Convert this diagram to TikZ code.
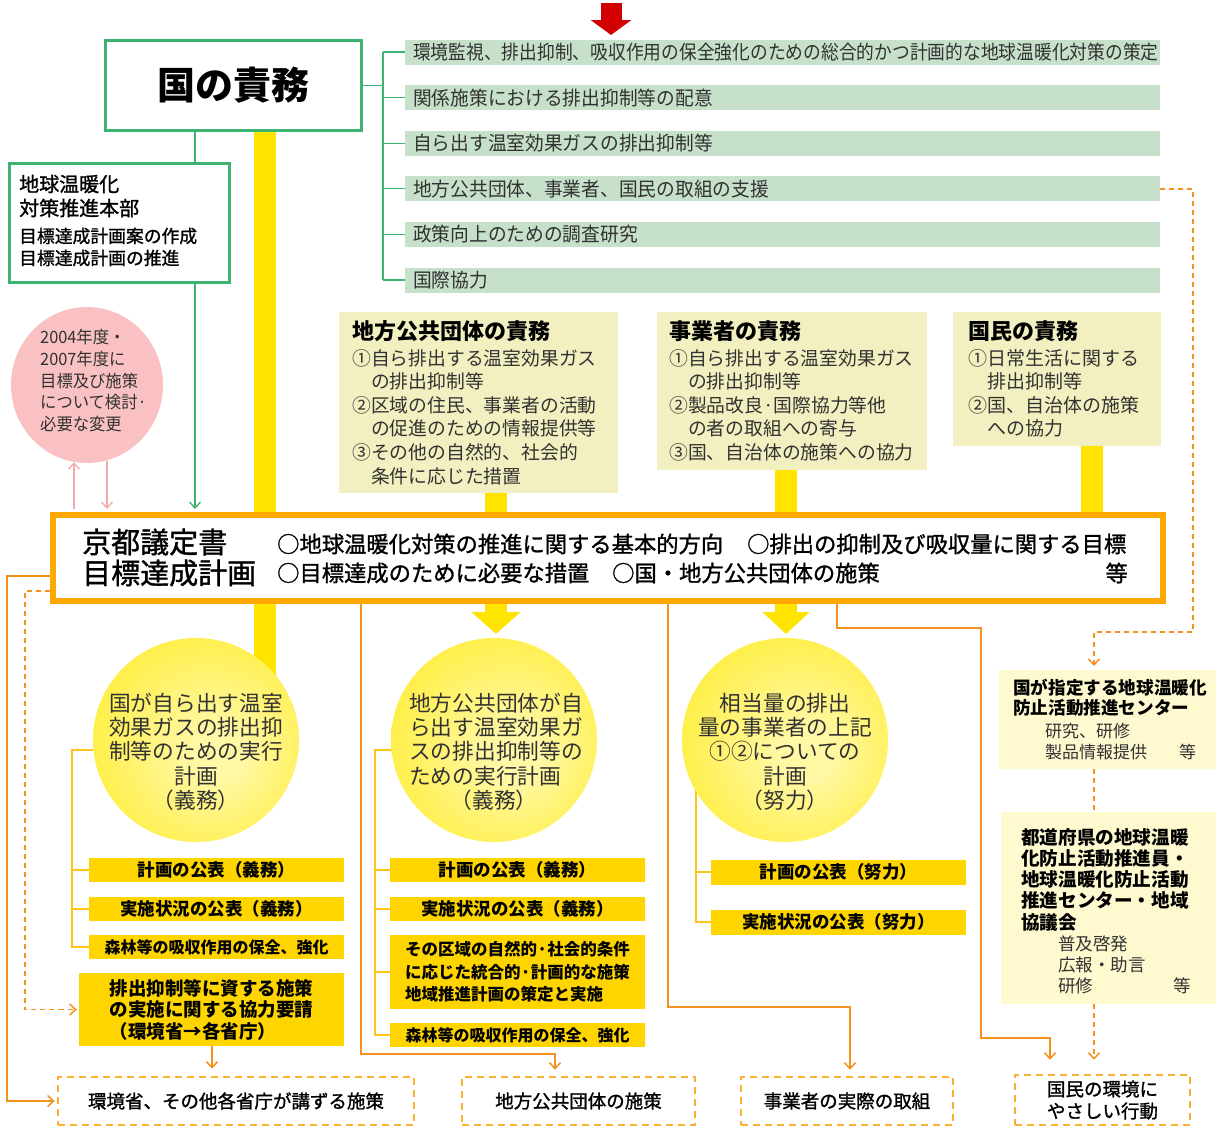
\documentclass[tikz,border=0pt]{standalone}
\usepackage{fontspec}
\setmainfont{Noto Sans CJK JP}
\newfontfamily\jpn[FakeStretch=0.96]{Noto Sans CJK JP}
\newfontfamily\jpnc[FakeStretch=0.91]{Noto Sans CJK JP}
\newfontfamily\jpm[FakeBold=1.2]{Noto Sans CJK JP}
\usetikzlibrary{arrows.meta,shapes.geometric}
\definecolor{gborder}{RGB}{60,179,113}
\definecolor{gfill}{RGB}{198,224,202}
\definecolor{khaki}{RGB}{242,240,192}
\definecolor{ybar}{RGB}{255,228,0}
\definecolor{gold}{RGB}{255,213,0}
\definecolor{kyoor}{RGB}{255,168,0}
\definecolor{olc}{RGB}{245,145,30}
\definecolor{odash}{RGB}{250,175,50}
\definecolor{pinkc}{RGB}{249,193,193}
\definecolor{pinkl}{RGB}{243,170,170}
\definecolor{rbox}{RGB}{255,249,208}
\definecolor{treec}{RGB}{255,196,20}
\definecolor{redarr}{RGB}{210,0,0}
\definecolor{tgray}{RGB}{50,50,50}
\definecolor{ylight}{RGB}{255,248,165}
\definecolor{ydeep}{RGB}{255,232,0}
\pgfdeclareradialshading{yglow}{\pgfpoint{6bp}{-4bp}}{color(0bp)=(ylight); color(6bp)=(ylight); color(46bp)=(ydeep); color(50bp)=(ydeep)}
\pgfdeclarelayer{bg}
\pgfsetlayers{bg,main}
\newcommand\Fz[1]{\fontsize{#1}{#1}\selectfont}
\begin{document}
\begin{tikzpicture}[x=1pt,y=-1pt,
  lt/.style={inner sep=0pt, anchor=west, text=black},
  ltg/.style={inner sep=0pt, anchor=west, text=tgray},
  gb/.style={draw=gborder, line width=2.5pt, fill=white, inner sep=0pt},
  gl/.style={draw=gborder, line width=1.3pt},
  gitem/.style={fill=gfill, anchor=west, minimum height=25pt, text width=739pt, inner xsep=8pt, inner ysep=0pt, align=left, font=\jpn\Fz{19.5}, text=tgray},
  kb/.style={fill=khaki, inner sep=0pt, anchor=north west},
  circ/.style={ellipse, minimum width=206pt, minimum height=204pt, inner sep=0pt, shade, shading=yglow},
  gbar/.style={fill=gold, inner sep=0pt, minimum width=255pt, minimum height=24pt, font=\bfseries\Fz{17.5}},
  rb/.style={fill=rbox, inner sep=0pt, anchor=north west},
  bbx/.style={draw=odash, line width=2.5pt, dash pattern=on 7pt off 5pt, fill=white, inner sep=0pt, font=\jpm\Fz{18.5}, minimum height=48pt},
  ybarst/.style={draw=ybar, line width=22pt},
  treel/.style={draw=treec, line width=1.3pt},
  arr/.style={-{Straight Barb[length=6pt,width=11pt]}},
  ol/.style={draw=olc, line width=1.5pt},
  odl/.style={draw=olc, line width=1.5pt, dash pattern=on 5pt off 4pt},
  pa/.style={draw=pinkl, line width=1.3pt, arr}
]
\useasboundingbox (0,0) rectangle (1224,1133);

% helper coordinates
\coordinate (gt) at (383,0);
\coordinate (hx) at (195,0);
\coordinate (xbar) at (265,0);
\coordinate (xk1) at (496,0);
\coordinate (xk2) at (786,0);
\coordinate (xk3) at (1092,0);
\coordinate (ytip) at (0,634);
\coordinate (xa) at (361,0);
\coordinate (xb) at (668,0);
\coordinate (xc) at (837,0);
\coordinate (xd) at (981,0);
\coordinate (xe) at (1050,0);
\coordinate (xf) at (555,0);
\coordinate (xg) at (850,0);
\coordinate (xh) at (1193,0);
\coordinate (xi) at (1094,0);
\coordinate (xj) at (7,0);
\coordinate (xk) at (25,0);
\coordinate (xl) at (212,0);
\coordinate (ya) at (0,1054);
\coordinate (yb) at (0,1007);
\coordinate (yc) at (0,628);
\coordinate (yd) at (0,1038);
\coordinate (ye) at (0,632);
\coordinate (xp1) at (74,0);
\coordinate (xp2) at (107,0);
\coordinate (xt1) at (72,0);
\coordinate (xt2) at (375,0);
\coordinate (xt3) at (696,0);
\coordinate (ra1) at (611,3);
\coordinate (ra2) at (611,35);

% red arrow
\draw[draw=redarr, line width=21pt, -{Triangle[length=15pt,width=40pt]}] (ra1) -- (ra2);

% 国の責務
\node[gb, minimum width=256pt, minimum height=90pt, anchor=north west, font=\bfseries\Fz{38}] (kuni) at (104,39) {国の責務};

% green list
\foreach \t [count=\i] in {{\jpnc 環境監視、排出抑制、吸収作用の保全強化のための総合的かつ計画的な地球温暖化対策の策定},関係施策における排出抑制等の配意,自ら出す温室効果ガスの排出抑制等,地方公共団体、事業者、国民の取組の支援,政策向上のための調査研究,国際協力}
  \node[gitem] (g\i) at (405,{52+45.6*(\i-1)}) {\t};

% 本部
\node[gb, minimum width=220pt, minimum height=119pt, anchor=north west] (honbu) at (8,162) {};
\node[lt, font=\jpm\Fz{20}] (h1) at (19,184) {地球温暖化};
\node[lt, font=\jpm\Fz{20}] (h2) at (19,208) {対策推進本部};
\node[lt, font=\jpm\Fz{17.8}] (h3) at (19,236) {目標達成計画案の作成};
\node[lt, font=\jpm\Fz{17.8}] (h4) at (19,258) {目標達成計画の推進};

% pink circle
\node[ellipse, fill=pinkc, minimum width=152pt, minimum height=156pt, inner sep=0pt] (pc) at (87,385) {};
\foreach \t [count=\i] in {2004年度・,2007年度に,目標及び施策,について検討·,必要な変更}
  \node[ltg, font=\jpn\Fz{17}] (p\i) at (40,{337+21.8*(\i-1)}) {\t};

% khaki boxes
\node[kb, minimum width=279pt, minimum height=181pt] (k1) at (339,312) {};
\node[lt, font=\bfseries\Fz{22}] (k1t) at (352,331) {地方公共団体の責務};
\foreach \t [count=\i] in {①自ら排出する温室効果ガス,　の排出抑制等,②区域の住民、事業者の活動,　の促進のための情報提供等,③その他の自然的、社会的,　条件に応じた措置}
  \node[ltg, font=\Fz{18.8}] (k1l\i) at (352,{358+23.6*(\i-1)}) {\t};

\node[kb, minimum width=270pt, minimum height=158pt] (k2) at (657,312) {};
\node[lt, font=\bfseries\Fz{22}] (k2t) at (669,331) {事業者の責務};
\foreach \t [count=\i] in {①自ら排出する温室効果ガス,　の排出抑制等,②製品改良·国際協力等他,　の者の取組への寄与,③国、自治体の施策への協力}
  \node[ltg, font=\Fz{18.8}] (k2l\i) at (669,{358+23.6*(\i-1)}) {\t};

\node[kb, minimum width=208pt, minimum height=134pt] (k3) at (953,312) {};
\node[lt, font=\bfseries\Fz{22}] (k3t) at (968,331) {国民の責務};
\foreach \t [count=\i] in {①日常生活に関する,　排出抑制等,②国、自治体の施策,　への協力}
  \node[ltg, font=\Fz{19}] (k3l\i) at (968,{358+23.6*(\i-1)}) {\t};

% 京都議定書 box
\node[draw=kyoor, line width=6pt, fill=white, minimum width=1110pt, minimum height=86pt, anchor=north west, inner sep=0pt] (kyoto) at (50,512) {};
\node[lt, font=\jpm\Fz{29}] (ky1) at (82,542) {京都議定書};
\node[lt, font=\jpm\Fz{29}] (ky2) at (82,573) {目標達成計画};
\node[lt, font=\jpm\Fz{22.3}] (ky3) at (277,544) {○地球温暖化対策の推進に関する基本的方向};
\node[lt, font=\jpm\Fz{22.3}] (ky4) at (747,544) {○排出の抑制及び吸収量に関する目標};
\node[lt, font=\jpm\Fz{22.3}] (ky5) at (277,573) {○目標達成のために必要な措置};
\node[lt, font=\jpm\Fz{22.3}] (ky6) at (612,573) {○国・地方公共団体の施策};
\node[lt, anchor=east, font=\jpm\Fz{22.3}] (ky7) at (1128,573) {等};

% circles
\node[circ] (c1) at (196,740) {};
\node[circ] (c2) at (494,740) {};
\node[circ] (c3) at (785,740) {};
\foreach \t [count=\i] in {国が自ら出す温室,効果ガスの排出抑,制等のための実行,計画,（義務）}
  \node[inner sep=0pt, text=tgray, font=\Fz{21.7}] (c1l\i) at (196,{703+24.3*(\i-1)}) {\t};
\foreach \t [count=\i] in {地方公共団体が自,ら出す温室効果ガ,スの排出抑制等の,ための実行計画}
  \node[ltg, font=\Fz{21.7}] (c2l\i) at (409,{703+24.3*(\i-1)}) {\t};
\node[inner sep=0pt, text=tgray, font=\Fz{21.7}] (c2l5) at (494,800) {（義務）};
\foreach \t [count=\i] in {相当量の排出,量の事業者の上記,①②についての,計画,（努力）}
  \node[inner sep=0pt, text=tgray, font=\Fz{21.7}] (c3l\i) at (785,{703+24.3*(\i-1)}) {\t};

% gold bars
\node[gbar] (b11) at (216.5,870) {計画の公表（義務）};
\node[gbar] (b12) at (216.5,909) {実施状況の公表（義務）};
\node[gbar, font=\bfseries\Fz{16}] (b13) at (216.5,947) {森林等の吸収作用の保全、強化};
\node[gbar, minimum width=265pt, minimum height=73pt, align=left, font=\bfseries\fontsize{18.5}{21.5}\selectfont] (b14) at (211.5,1009.5) {排出抑制等に資する施策\\の実施に関する協力要請\\（環境省→各省庁）};
\node[gbar] (b21) at (517.5,870) {計画の公表（義務）};
\node[gbar] (b22) at (517.5,909) {実施状況の公表（義務）};
\node[gbar, minimum height=74pt, align=left, font=\bfseries\fontsize{16.5}{22.5}\selectfont] (b23) at (517.5,972) {その区域の自然的·社会的条件\\に応じた統合的·計画的な施策\\地域推進計画の策定と実施};
\node[gbar, font=\bfseries\Fz{16}] (b24) at (517.5,1035) {森林等の吸収作用の保全、強化};
\node[gbar, minimum height=25pt] (b31) at (838.5,872) {計画の公表（努力）};
\node[gbar, minimum height=25pt] (b32) at (838.5,922) {実施状況の公表（努力）};

% right boxes
\node[rb, minimum width=217pt, minimum height=99pt] (r1) at (999,670) {};
\node[lt, font=\bfseries\Fz{17.6}] (r1a) at (1013,688) {国が指定する地球温暖化};
\node[lt, font=\bfseries\Fz{17.6}] (r1b) at (1013,708) {防止活動推進センター};
\node[ltg, font=\Fz{17}] (r1c) at (1045,731) {研究、研修};
\node[ltg, font=\Fz{17}] (r1d) at (1045,752) {製品情報提供\hspace{32pt}等};

\node[rb, minimum width=215pt, minimum height=192pt] (r2) at (1001,812) {};
\foreach \t [count=\i] in {都道府県の地球温暖,化防止活動推進員・,地球温暖化防止活動,推進センター・地域,協議会}
  \node[lt, font=\bfseries\Fz{18.6}] (r2l\i) at (1021,{837+21.3*(\i-1)}) {\t};
\node[ltg, font=\Fz{17.5}] (r2l6) at (1058,944) {普及啓発};
\node[ltg, font=\Fz{17.5}] (r2l7) at (1058,965) {広報・助言};
\node[ltg, font=\Fz{17.5}] (r2l8) at (1058,986) {研修\hspace{80pt}等};

% bottom boxes
\node[bbx, minimum width=356pt] (bb1) at (236,1101) {環境省、その他各省庁が講ずる施策};
\node[bbx, minimum width=233pt] (bb2) at (578.5,1101) {地方公共団体の施策};
\node[bbx, minimum width=212pt] (bb3) at (847,1101) {事業者の実際の取組};
\node[bbx, minimum width=175pt, minimum height=50pt, align=center, font=\jpm\fontsize{18.5}{22}\selectfont] (bb4) at (1102.5,1100) {国民の環境に\\やさしい行動};

\begin{pgfonlayer}{bg}
  % yellow bars
  \draw[ybarst] (kuni.south -| xbar) -- (c1.center -| xbar);
  \draw[ybarst, -{Triangle[length=22pt,width=48pt]}] (k1.south -| xk1) -- (xk1 |- ytip);
  \draw[ybarst, -{Triangle[length=22pt,width=46pt]}] (k2.south -| xk2) -- (xk2 |- ytip);
  \draw[ybarst] (k3.south -| xk3) -- (kyoto.north -| xk3);
  % green connectors
  \draw[gl] (kuni.east) -- (kuni.east -| gt);
  \draw[gl] (g1.west -| gt) -- (g6.west -| gt);
  \foreach \i in {1,...,6} \draw[gl] (g\i.west -| gt) -- (g\i.west);
  \draw[gl] (kuni.south -| hx) -- (honbu.north -| hx);
  \draw[gl, arr] (honbu.south -| hx) -- ([yshift=3pt]kyoto.north -| hx);
  % pink arrows
  \draw[pa] ([yshift=3pt]kyoto.north -| xp1) -- ([yshift=1pt]pc.south -| xp1);
  \draw[pa] ([yshift=2pt]pc.south -| xp2) -- ([yshift=3pt]kyoto.north -| xp2);
  % tree lines
  \draw[treel] ([yshift=-10pt]c1.west) -| (xt1 |- b13.west) -- (b13.west);
  \draw[treel] (xt1 |- b11.west) -- (b11.west);
  \draw[treel] (xt1 |- b12.west) -- (b12.west);
  \draw[treel] ([yshift=-10pt]c2.west) -| (xt2 |- b24.west) -- (b24.west);
  \draw[treel] (xt2 |- b21.west) -- (b21.west);
  \draw[treel] (xt2 |- b22.west) -- (b22.west);
  \draw[treel] (xt2 |- b23.west) -- (b23.west);
  \draw[treel] (xt3 |- c3.center) -- (xt3 |- b32.west) -- (b32.west);
  \draw[treel] (xt3 |- b31.west) -- (b31.west);
  % orange connectors
  \draw[ol, arr] ([yshift=-18pt]kyoto.west) -| (xj |- bb1.west) -- ([xshift=-2pt]bb1.west);
  \draw[odl, arr] ([yshift=-33pt]kyoto.west) -| (xk |- b14.west) -- ([xshift=-2pt]b14.west);
  \draw[ol, arr] (b14.south -| xl) -- ([yshift=7pt]bb1.north -| xl);
  \draw[ol, arr] (kyoto.south -| xa) -- (xa |- ya) -- (xf |- ya) -- ([yshift=6pt]bb2.north -| xf);
  \draw[ol, arr] (kyoto.south -| xb) -- (xb |- yb) -- (xg |- yb) -- ([yshift=6pt]bb3.north -| xg);
  \draw[ol, arr] (kyoto.south -| xc) -- (xc |- yc) -- (xd |- yc) -- (xd |- yd) -- (xe |- yd) -- ([yshift=14pt]bb4.north -| xe);
  \draw[odl, arr] (g4.east) -- (g4.east -| xh) -- (xh |- ye) -- (xi |- ye) -- ([yshift=4pt]r1.north -| xi);
  \draw[odl] (r1.south -| xi) -- (r2.north -| xi);
  \draw[odl, arr] (r2.south -| xi) -- ([yshift=14pt]bb4.north -| xi);
\end{pgfonlayer}
\end{tikzpicture}
\end{document}
